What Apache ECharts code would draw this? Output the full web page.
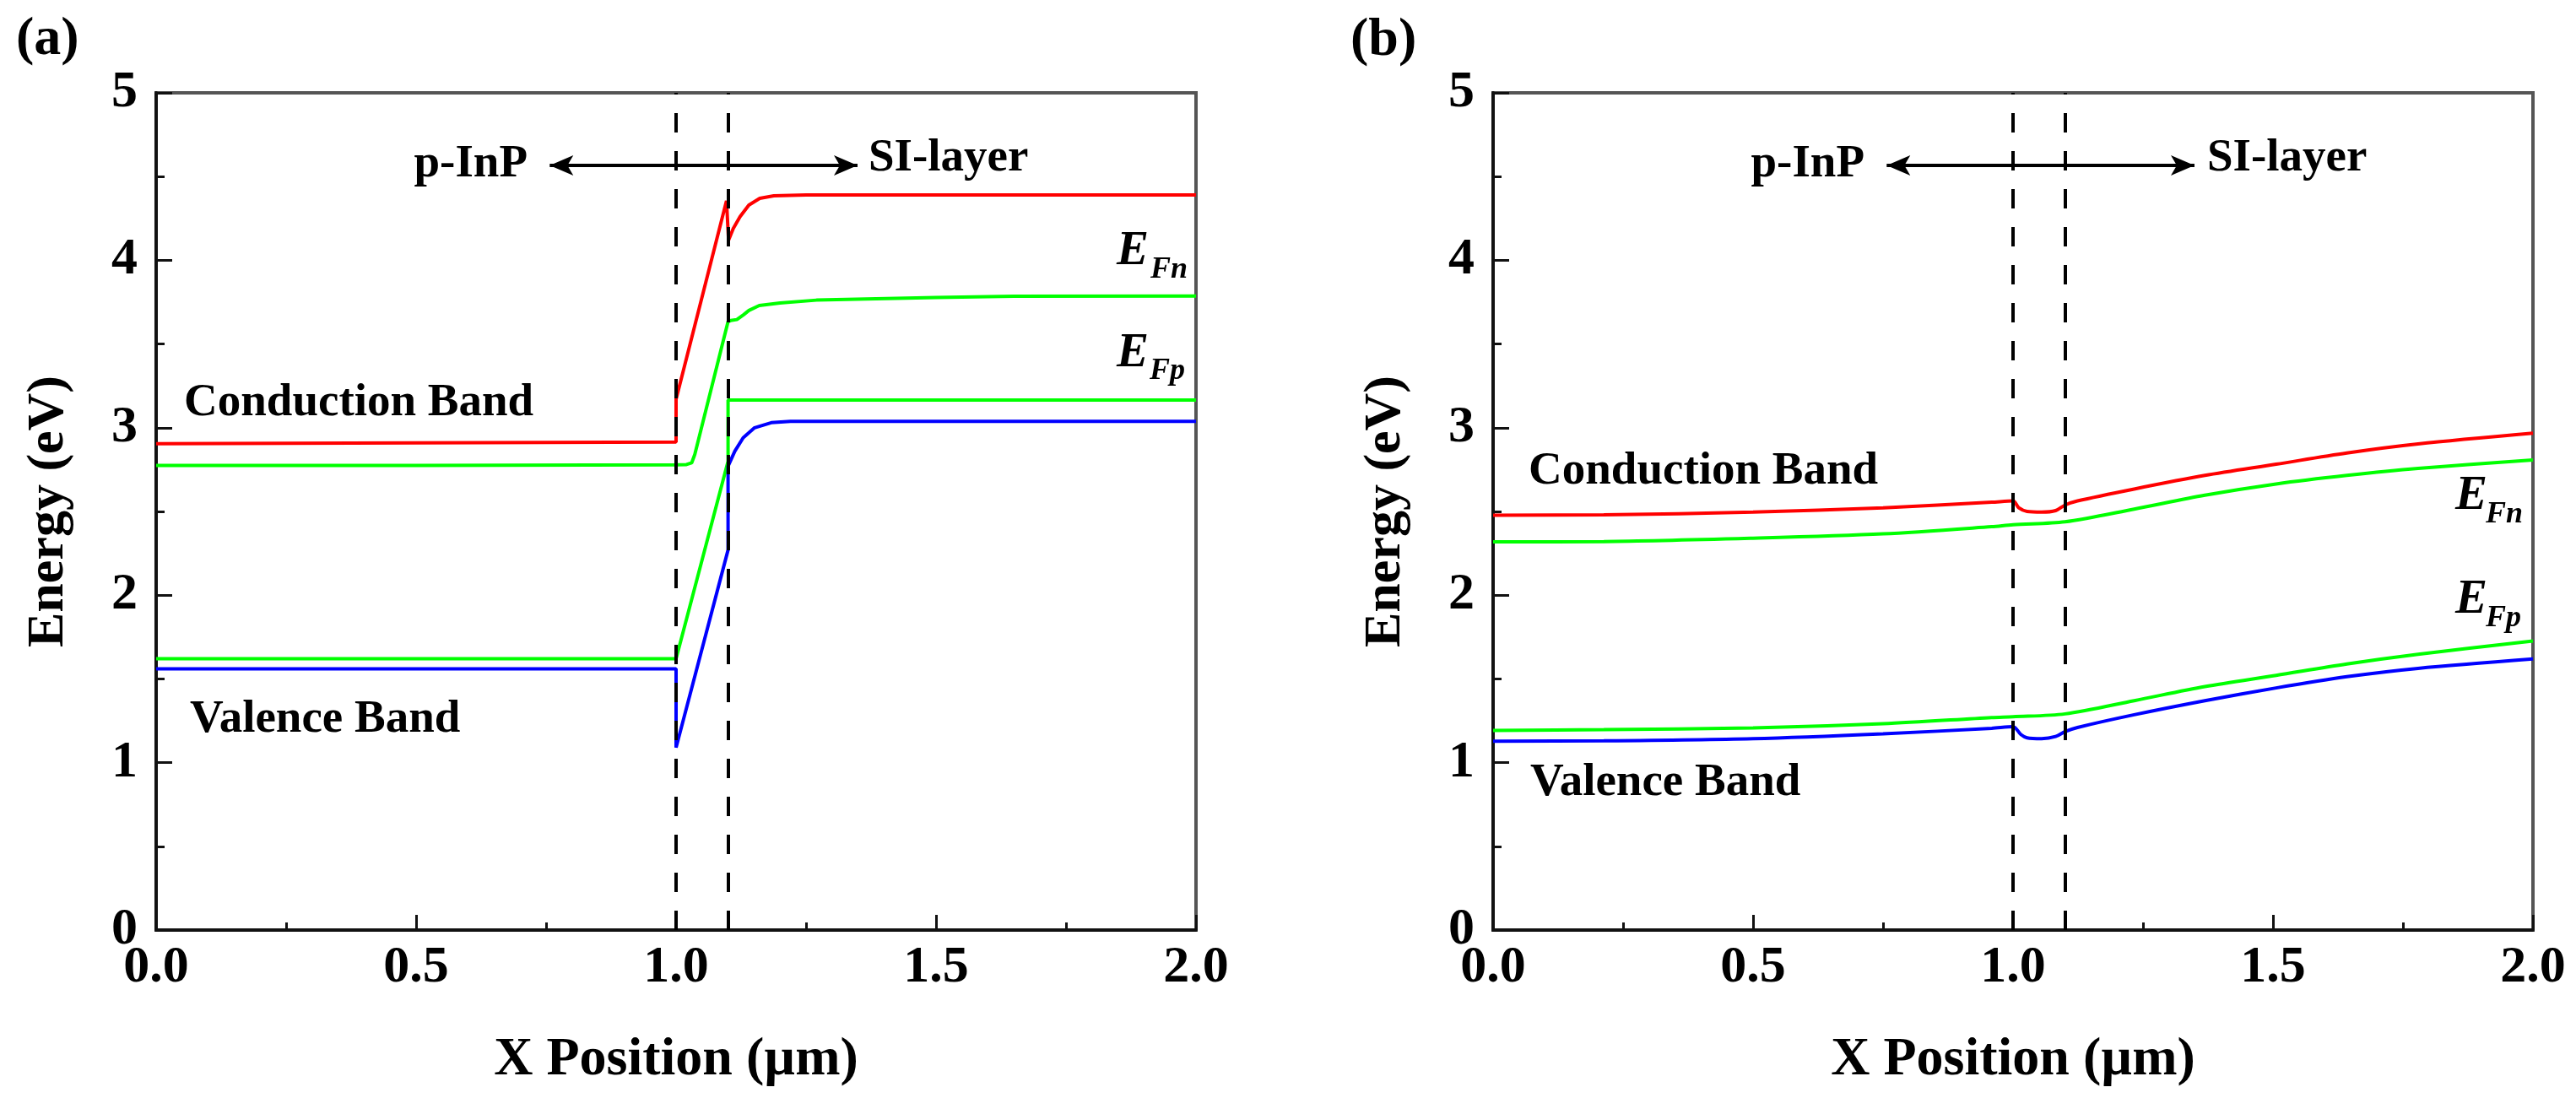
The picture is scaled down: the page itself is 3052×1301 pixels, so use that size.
<!DOCTYPE html>
<html>
<head>
<meta charset="utf-8">
<script src="https://cdn.jsdelivr.net/npm/echarts@6/dist/echarts.min.js"></script>
<style>
html,body{margin:0;padding:0;background:#fff;}
#chart{width:3052px;height:1301px;}
</style>
</head>
<body>
<div id="chart"></div>
<script>
// ---------- Data: panel (a) ----------
var aCB_x  = [0, 0.5, 1.0, 1.0, 1.097, 1.101, 1.11, 1.123, 1.14, 1.161, 1.188, 1.25, 1.5, 2.0];
var aCB_y  = [2.905, 2.91, 2.915, 3.17, 4.355, 4.12, 4.19, 4.26, 4.33, 4.37, 4.385, 4.39, 4.39, 4.39];
var aEFn_x = [0, 0.5, 1.0, 1.02, 1.03, 1.036, 1.1, 1.105, 1.117, 1.13, 1.14, 1.16, 1.2, 1.27, 1.5, 1.65, 2.0];
var aEFn_y = [2.775, 2.775, 2.778, 2.78, 2.79, 2.84, 3.634, 3.64, 3.646, 3.675, 3.70, 3.73, 3.745, 3.762, 3.778, 3.785, 3.786];
var aEFp_x = [0, 1.0, 1.1, 1.1, 2.0];
var aEFp_y = [1.62, 1.62, 2.80, 3.165, 3.165];
var aVB_x  = [0, 1.0, 1.0, 1.1, 1.1, 1.113, 1.129, 1.151, 1.183, 1.22, 2.0];
var aVB_y  = [1.56, 1.56, 1.09, 2.27, 2.77, 2.86, 2.94, 3.00, 3.03, 3.038, 3.038];

// ---------- Data: panel (b) ----------
var bCB_x  = [0, 0.213, 0.5, 0.75, 0.959, 1.0, 1.011, 1.027, 1.055, 1.082, 1.1, 1.124, 1.233, 1.369, 1.506, 1.642, 1.779, 2.0];
var bCB_y  = [2.477, 2.48, 2.496, 2.522, 2.555, 2.563, 2.522, 2.50, 2.496, 2.505, 2.538, 2.563, 2.634, 2.715, 2.782, 2.849, 2.903, 2.967];
var bEFn_x = [0, 0.213, 0.5, 0.75, 0.959, 1.0, 1.1, 1.233, 1.369, 1.506, 1.642, 1.779, 2.0];
var bEFn_y = [2.318, 2.32, 2.34, 2.366, 2.409, 2.421, 2.438, 2.514, 2.597, 2.664, 2.715, 2.757, 2.807];
var bEFp_x = [0, 0.213, 0.5, 0.75, 0.959, 1.0, 1.1, 1.233, 1.369, 1.506, 1.642, 1.779, 2.0];
var bEFp_y = [1.192, 1.197, 1.207, 1.232, 1.269, 1.274, 1.291, 1.37, 1.454, 1.521, 1.589, 1.647, 1.726];
var bVB_x  = [0, 0.213, 0.5, 0.75, 0.959, 1.0, 1.015, 1.027, 1.055, 1.082, 1.1, 1.124, 1.233, 1.369, 1.506, 1.642, 1.779, 2.0];
var bVB_y  = [1.128, 1.13, 1.143, 1.172, 1.205, 1.215, 1.168, 1.148, 1.143, 1.156, 1.185, 1.21, 1.286, 1.37, 1.446, 1.513, 1.563, 1.619];

// Interface positions and arrow span
var interfaces = [1.0, 1.1];
var arrowSpan = [0.757, 1.349];
var arrowY = 4.567;

// Axis ticks
var xMin = 0, xMax = 2, xStep = 0.5;
var yMin = 0, yMax = 5, yStep = 1;

function pairs(xs, ys){ var o=[]; for(var i=0;i<xs.length;i++){ o.push([xs[i], ys[i]]); } return o; }

var FONT = "'Times New Roman','Liberation Serif',serif";
var RED = '#ff0000', GREEN = '#00ff00', BLUE = '#0000ff';

var chart = echarts.init(document.getElementById('chart'), null, {renderer:'canvas'});

function xAxisDef(gi){
  return {
    type:'value', gridIndex:gi, min:xMin, max:xMax, interval:xStep,
    name:'X Position (\u00b5m)', nameLocation:'middle', nameGap:122,
    nameTextStyle:{fontFamily:FONT, fontWeight:'bold', fontSize:64, color:'#000'},
    axisLine:{show:true, onZero:false, lineStyle:{color:'#111', width:4}},
    axisTick:{show:true, inside:true, length:18, lineStyle:{color:'#111', width:3}},
    minorTick:{show:true, splitNumber:2, length:9, lineStyle:{color:'#111', width:3}},
    splitLine:{show:false},
    axisLabel:{fontFamily:FONT, fontWeight:'bold', fontSize:62, color:'#000', margin:14,
      formatter:function(v){ return v.toFixed(1); }}
  };
}
function yAxisDef(gi){
  return {
    type:'value', gridIndex:gi, min:yMin, max:yMax, interval:yStep,
    name:'Energy (eV)', nameLocation:'middle', nameGap:96,
    nameTextStyle:{fontFamily:FONT, fontWeight:'bold', fontSize:62, color:'#000'},
    axisLine:{show:true, onZero:false, lineStyle:{color:'#111', width:4}},
    axisTick:{show:true, inside:true, length:19, lineStyle:{color:'#111', width:3}},
    minorTick:{show:true, splitNumber:2, length:10, lineStyle:{color:'#111', width:3}},
    splitLine:{show:false},
    axisLabel:{fontFamily:FONT, fontWeight:'bold', fontSize:62, color:'#000', margin:22}
  };
}
function lineSeries(gi, data, color, extra){
  var s = {
    type:'line', xAxisIndex:gi, yAxisIndex:gi, data:data, showSymbol:false, symbol:'none',
    lineStyle:{color:color, width:4}, itemStyle:{color:color}, animation:false, z:3
  };
  if(extra){ for(var k in extra) s[k]=extra[k]; }
  return s;
}
function guides(){
  return {
    markLine:{
      silent:true, symbol:['none','none'], animation:false,
      label:{show:false},
      lineStyle:{color:'#000', width:4, type:[23,22]},
      data: interfaces.map(function(v){ return {xAxis:v}; })
    }
  };
}
function arrowMark(){
  return {
    silent:true, symbol:['arrow','arrow'], symbolSize:[18,28], animation:false,
    label:{show:false},
    lineStyle:{color:'#000', width:4, type:'solid'},
    data:[[{coord:[arrowSpan[0], arrowY]},{coord:[arrowSpan[1], arrowY]}]]
  };
}

function txt(x, y, text, size, opts){
  opts = opts || {};
  return {
    type:'text', x:x, y:y, silent:true, z:10,
    style:{
      text:text, fill:'#000', fontFamily:FONT, fontWeight:'bold',
      fontStyle: opts.italic ? 'italic' : 'normal',
      fontSize:size, align: opts.align || 'left', verticalAlign:'middle'
    }
  };
}

var option = {
  animation:false,
  backgroundColor:'#fff',
  grid:[
    {left:185, top:110, width:1232, height:992, show:true, borderColor:'#555', borderWidth:4, backgroundColor:'transparent'},
    {left:1769, top:110, width:1232, height:992, show:true, borderColor:'#555', borderWidth:4, backgroundColor:'transparent'}
  ],
  xAxis:[xAxisDef(0), xAxisDef(1)],
  yAxis:[yAxisDef(0), yAxisDef(1)],
  series:[
    lineSeries(0, pairs(aCB_x, aCB_y), RED, {markLine:arrowMark()}),
    lineSeries(0, pairs(aEFn_x, aEFn_y), GREEN, guides()),
    lineSeries(0, pairs(aEFp_x, aEFp_y), GREEN),
    lineSeries(0, pairs(aVB_x, aVB_y), BLUE),
    lineSeries(1, pairs(bCB_x, bCB_y), RED, {markLine:arrowMark(), smooth:0.3}),
    lineSeries(1, pairs(bEFn_x, bEFn_y), GREEN, {markLine:guides().markLine, smooth:0.3}),
    lineSeries(1, pairs(bEFp_x, bEFp_y), GREEN, {smooth:0.3}),
    lineSeries(1, pairs(bVB_x, bVB_y), BLUE, {smooth:0.3})
  ],
  graphic:[
    txt(19, 47, '(a)', 64),
    txt(1600, 48, '(b)', 64),
    // panel (a)
    txt(625, 195, 'p-InP', 55, {align:'right'}),
    txt(1029, 188, 'SI-layer', 55),
    txt(218, 478, 'Conduction Band', 55),
    txt(225, 853, 'Valence Band', 55),
    txt(1323, 298, 'E', 57, {italic:true}),
    txt(1363, 320, 'Fn', 36, {italic:true}),
    txt(1323, 419, 'E', 57, {italic:true}),
    txt(1362, 440, 'Fp', 36, {italic:true}),
    // panel (b)
    txt(2209, 195, 'p-InP', 55, {align:'right'}),
    txt(2615, 188, 'SI-layer', 55),
    txt(1811, 559, 'Conduction Band', 55),
    txt(1813, 928, 'Valence Band', 55),
    txt(2909, 588, 'E', 57, {italic:true}),
    txt(2945, 610, 'Fn', 36, {italic:true}),
    txt(2909, 711, 'E', 57, {italic:true}),
    txt(2945, 733, 'Fp', 36, {italic:true})
  ]
};
chart.setOption(option);
</script>
</body>
</html>
